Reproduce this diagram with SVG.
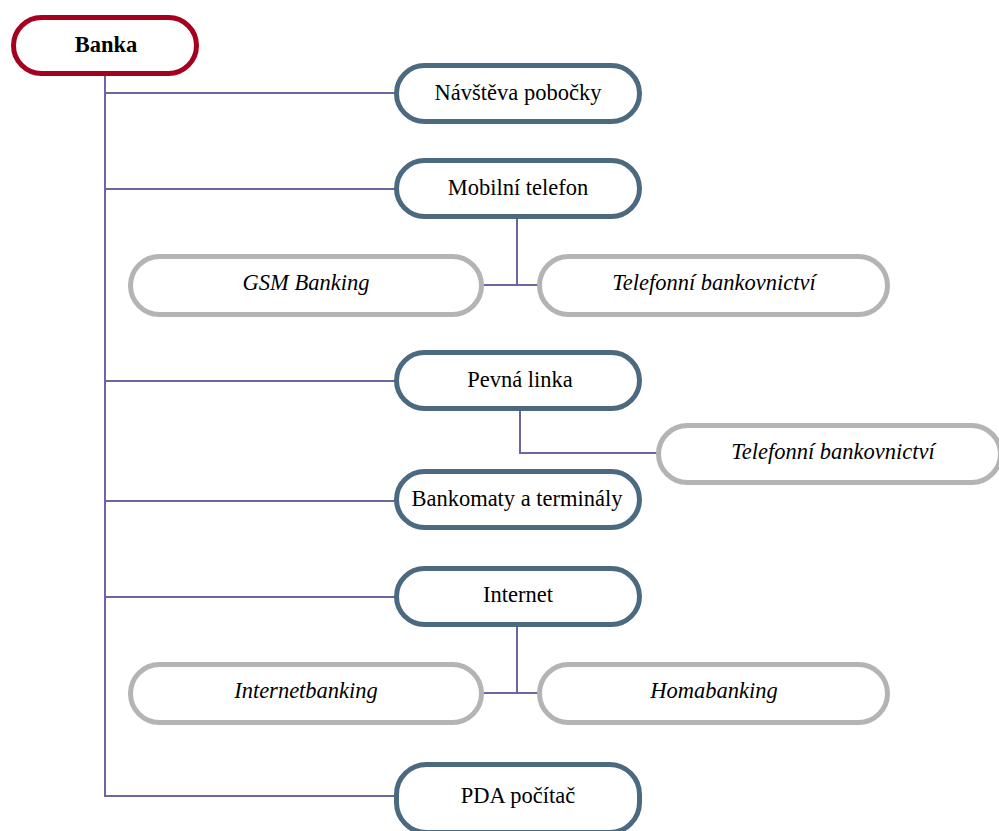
<svg xmlns="http://www.w3.org/2000/svg" width="999" height="831" viewBox="0 0 999 831">
<style>
.main{fill:#fff;stroke:#4B6A80;stroke-width:5}
.root{fill:#fff;stroke:#A5001E;stroke-width:5}
.sub{fill:#fff;stroke:#B4B4B4;stroke-width:5}
.c{fill:none;stroke:#6A65A3;stroke-width:2}
</style>
<rect width="999" height="831" fill="#fff"/>
<g id="connectors">
<path class="c" d="M105,75 V796 H396"/>
<path class="c" d="M105,93 H396"/>
<path class="c" d="M105,189 H396"/>
<path class="c" d="M105,381 H396"/>
<path class="c" d="M105,501 H396"/>
<path class="c" d="M105,597 H396"/>
<path class="c" d="M517,217 V285 M482,285 H540"/>
<path class="c" d="M520,410 V453 H658"/>
<path class="c" d="M517,625 V693 M482,693 H540"/>
</g>
<g font-family="Liberation Serif" font-size="22.5" text-anchor="middle" fill="#000">
<g id="banka"><rect class="root" x="13.5" y="17.5" width="183" height="56" rx="28"/><text x="106" y="52" font-weight="bold">Banka</text></g>
<g id="navsteva"><rect class="main" x="396.5" y="65.5" width="243" height="56" rx="28"/><text x="518" y="100">Návštěva pobočky</text></g>
<g id="mobil"><rect class="main" x="396.5" y="160.5" width="243" height="56" rx="28"/><text x="518" y="195">Mobilní telefon</text></g>
<g id="gsm"><rect class="sub" x="130.5" y="256.5" width="351" height="58" rx="29"/><text x="306" y="290" font-style="italic">GSM Banking</text></g>
<g id="telefon1"><rect class="sub" x="539.5" y="256.5" width="348" height="58" rx="29"/><text x="714" y="290" font-style="italic">Telefonní bankovnictví</text></g>
<g id="pevna"><rect class="main" x="396.5" y="352.5" width="243" height="56" rx="28"/><text x="520" y="387">Pevná linka</text></g>
<g id="telefon2"><rect class="sub" x="658.5" y="425.5" width="342" height="57" rx="29"/><text x="833" y="459" font-style="italic">Telefonní bankovnictví</text></g>
<g id="bankomaty"><rect class="main" x="396.5" y="471.5" width="243" height="56" rx="28"/><text x="517" y="506">Bankomaty a terminály</text></g>
<g id="internet"><rect class="main" x="396.5" y="568.5" width="243" height="56" rx="28"/><text x="518" y="602">Internet</text></g>
<g id="internetbanking"><rect class="sub" x="130.5" y="664.5" width="351" height="58" rx="29"/><text x="306" y="698" font-style="italic">Internetbanking</text></g>
<g id="homabanking"><rect class="sub" x="539.5" y="664.5" width="348" height="58" rx="29"/><text x="714" y="698" font-style="italic">Homabanking</text></g>
<g id="pda"><rect class="main" x="396.5" y="764.5" width="243" height="68" rx="30"/><text x="518" y="803">PDA počítač</text></g>
</g>
</svg>
